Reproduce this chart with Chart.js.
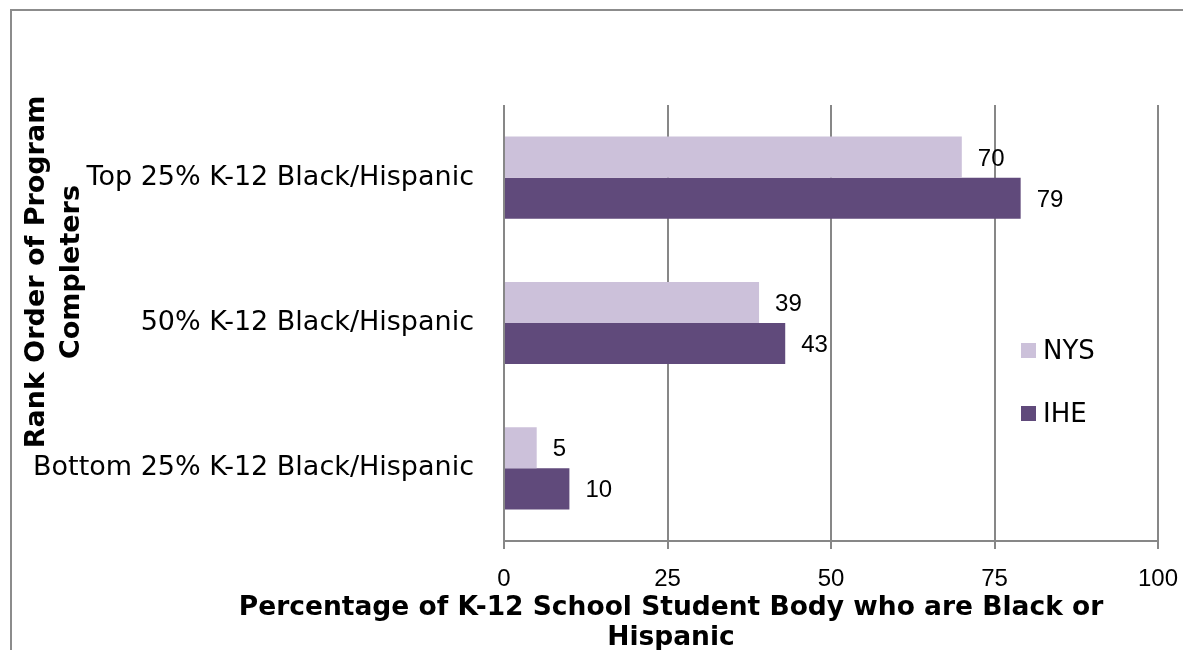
<!DOCTYPE html>
<html>
<head>
<meta charset="utf-8">
<script src="https://cdn.jsdelivr.net/npm/chart.js@4.4.1/dist/chart.umd.min.js"></script>
<style>
  html, body { margin:0; padding:0; background:#fff; }
  #wrap { position:relative; width:1183px; height:650px; overflow:hidden; }
  #frame { position:absolute; left:10px; top:9px; width:1200px; height:700px;
           border-left:2px solid #8c8c8c; border-top:2px solid #8c8c8c; }
  canvas { position:absolute; left:0; top:0; }
</style>
</head>
<body>
<div id="wrap">
  <div id="frame"></div>
  <canvas id="c" width="1183" height="650"></canvas>
</div>
<script>
  // ── DATOS ─────────────────────────────────────────────
  var categorias = ['Top 25% K-12 Black/Hispanic', '50% K-12 Black/Hispanic', 'Bottom 25% K-12 Black/Hispanic'];
  var serieNYS   = [70, 39, 5];
  var serieIHE   = [79, 43, 10];
  var ticksX     = [0, 25, 50, 75, 100];

  var tituloY = ['Rank Order of Program', 'Completers'];
  var tituloX = ['Percentage of K-12 School Student Body who are Black or', 'Hispanic'];

  var COL_NYS = '#CCC1DA';
  var COL_IHE = '#604A7B';
  var GRID    = '#878787';
  var FUENTE  = "'DejaVu Sans', Verdana, sans-serif";

  // Etiquetas de valor al final de cada barra
  var etiquetas = {
    id: 'etiquetas',
    afterDatasetsDraw: function (chart) {
      var ctx = chart.ctx;
      ctx.save();
      ctx.font = "24px 'Liberation Sans', Arial, sans-serif";
      ctx.fillStyle = '#000';
      ctx.textAlign = 'left';
      ctx.textBaseline = 'middle';
      chart.data.datasets.forEach(function (ds, i) {
        chart.getDatasetMeta(i).data.forEach(function (el, j) {
          ctx.fillText(String(ds.data[j]), el.x + 16, el.y + 2);
        });
      });
      ctx.restore();
    }
  };

  // Leyenda dentro del área de trazado + títulos de ejes
  var extras = {
    id: 'extras',
    afterDraw: function (chart) {
      var ctx = chart.ctx, a = chart.chartArea;
      ctx.save();
      // leyenda
      ctx.font = '26px ' + FUENTE;
      ctx.textBaseline = 'middle';
      ctx.textAlign = 'left';
      var lx = a.right - 137, ly = a.top + 246;
      chart.data.datasets.forEach(function (ds, i) {
        var y = ly + i * 63;
        ctx.fillStyle = ds.backgroundColor;
        ctx.fillRect(lx, y - 8, 15, 15);
        ctx.fillStyle = '#000';
        ctx.fillText(ds.label, lx + 22, y + 1);
      });
      // título eje Y (rotado)
      ctx.font = 'bold 27px ' + FUENTE;
      ctx.textAlign = 'center';
      ctx.save();
      ctx.translate(37, 272);
      ctx.rotate(-Math.PI / 2);
      ctx.fillText(tituloY[0], 0, 0);
      ctx.fillText(tituloY[1], 0, 35);
      ctx.restore();
      // título eje X
      ctx.font = 'bold 26.5px ' + FUENTE;
      ctx.fillText(tituloX[0], 671, 608);
      ctx.fillText(tituloX[1], 671, 638);
      ctx.restore();
    }
  };

  new Chart(document.getElementById('c').getContext('2d'), {
    type: 'bar',
    data: {
      labels: categorias,
      datasets: [
        { label: 'NYS', data: serieNYS, backgroundColor: COL_NYS, borderWidth: 0 },
        { label: 'IHE', data: serieIHE, backgroundColor: COL_IHE, borderWidth: 0 }
      ]
    },
    options: {
      indexAxis: 'y',
      responsive: false,
      animation: false,
      layout: { padding: { top: 105, right: 25, left: 0, bottom: 0 } },
      datasets: { bar: { categoryPercentage: 0.565, barPercentage: 1.0 } },
      plugins: { legend: { display: false }, tooltip: { enabled: false } },
      scales: {
        x: {
          min: 0, max: 100,
          afterBuildTicks: function (s) { s.ticks = ticksX.map(function (v) { return { value: v }; }); },
          afterFit: function (s) { s.height = 109; s.paddingLeft = 0; s.paddingRight = 0; },
          grid: { color: GRID, lineWidth: 2, tickLength: 8, drawTicks: true },
          border: { color: GRID, width: 2 },
          ticks: {
            padding: 16,
            color: '#000',
            font: { family: "'Liberation Sans Narrow', 'Liberation Sans', sans-serif", size: 24 }
          }
        },
        y: {
          afterFit: function (s) { s.width = 504; },
          grid: { display: false },
          border: { display: false },
          ticks: {
            padding: 22,
            color: '#000',
            font: { family: FUENTE, size: 27 }
          }
        }
      }
    },
    plugins: [etiquetas, extras]
  });
</script>
</body>
</html>
